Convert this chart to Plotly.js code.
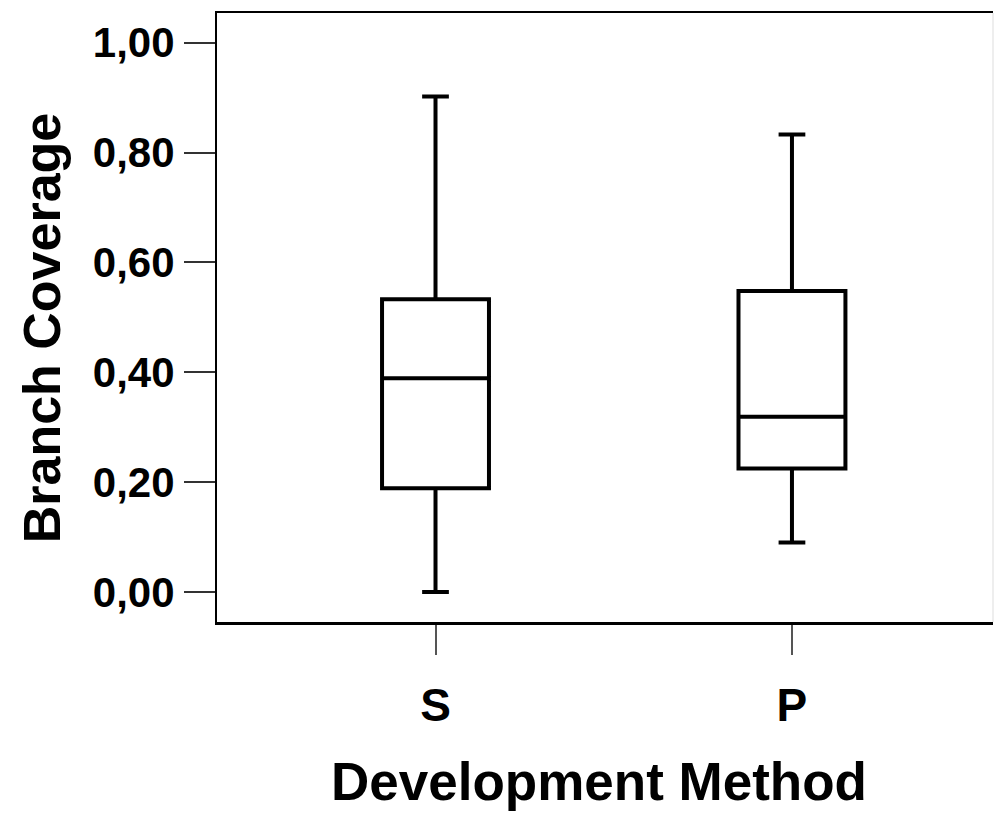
<!DOCTYPE html>
<html>
<head>
<meta charset="utf-8">
<script src="https://cdn.plot.ly/plotly-3.0.1.min.js"></script>
<style>html,body{margin:0;padding:0;background:#fff;}#chart{width:996px;height:813px;}</style>
</head>
<body>
<div id="chart"></div>
<script>
const categories = ["S", "P"];
const lowerWhisker = [0.000, 0.090];
const q1Values = [0.189, 0.225];
const medianValues = [0.389, 0.319];
const q3Values = [0.533, 0.548];
const upperWhisker = [0.902, 0.833];
const yTickVals = [0, 0.2, 0.4, 0.6, 0.8, 1.0];
const yTickText = ["0,00", "0,20", "0,40", "0,60", "0,80", "1,00"];
const xTitle = "Development Method";
const yTitle = "Branch Coverage";

const font = "Liberation Sans, Arial, Helvetica, sans-serif";

const trace = {
  type: "box",
  x: categories,
  q1: q1Values,
  median: medianValues,
  q3: q3Values,
  lowerfence: lowerWhisker,
  upperfence: upperWhisker,
  width: 0.30,
  whiskerwidth: 0.25,
  fillcolor: "#ffffff",
  line: {color: "#000000", width: 4},
  boxpoints: false,
  hoverinfo: "skip",
  showlegend: false
};

const layout = {
  width: 996,
  height: 813,
  margin: {l: 217, r: 3, t: 13, b: 191},
  paper_bgcolor: "#ffffff",
  plot_bgcolor: "#ffffff",
  showlegend: false,
  font: {family: font, color: "#000"},
  xaxis: {
    type: "category",
    range: [-0.613, 1.564],
    showgrid: false,
    zeroline: false,
    showline: true,
    mirror: true,
    linecolor: "#000",
    linewidth: 2.5,
    ticks: "outside",
    ticklen: 30,
    tickwidth: 2,
    tickcolor: "#555",
    ticklabelstandoff: 11,
    tickfont: {family: font, size: 46, color: "#000", weight: "bold"}
  },
  yaxis: {
    range: [-0.0546, 1.054],
    tickvals: yTickVals,
    ticktext: yTickText,
    showgrid: false,
    zeroline: false,
    showline: true,
    linecolor: "#000",
    linewidth: 2,
    ticks: "outside",
    ticklen: 31,
    tickwidth: 2,
    tickcolor: "#333",
    ticklabelstandoff: 1,
    tickfont: {family: font, size: 42, color: "#000", weight: "bold"}
  },
  annotations: [
    {text: "<b>" + xTitle + "</b>", xref: "paper", yref: "paper", x: 0.4923, y: -0.2611,
     xanchor: "center", yanchor: "middle", showarrow: false,
     font: {family: font, size: 53, color: "#000"}},
    {text: "<b>" + yTitle + "</b>", xref: "paper", yref: "paper", x: -0.2262, y: 0.483,
     xanchor: "center", yanchor: "middle", textangle: -90, showarrow: false,
     font: {family: font, size: 52, color: "#000"}}
  ],
  shapes: [
    {type: "line", xref: "paper", yref: "paper", x0: 1, x1: 1, y0: 0, y1: 1, line: {color: "#dddddd", width: 1}}
  ]
};

Plotly.newPlot("chart", [trace], layout, {displayModeBar: false, staticPlot: true});
</script>
</body>
</html>
